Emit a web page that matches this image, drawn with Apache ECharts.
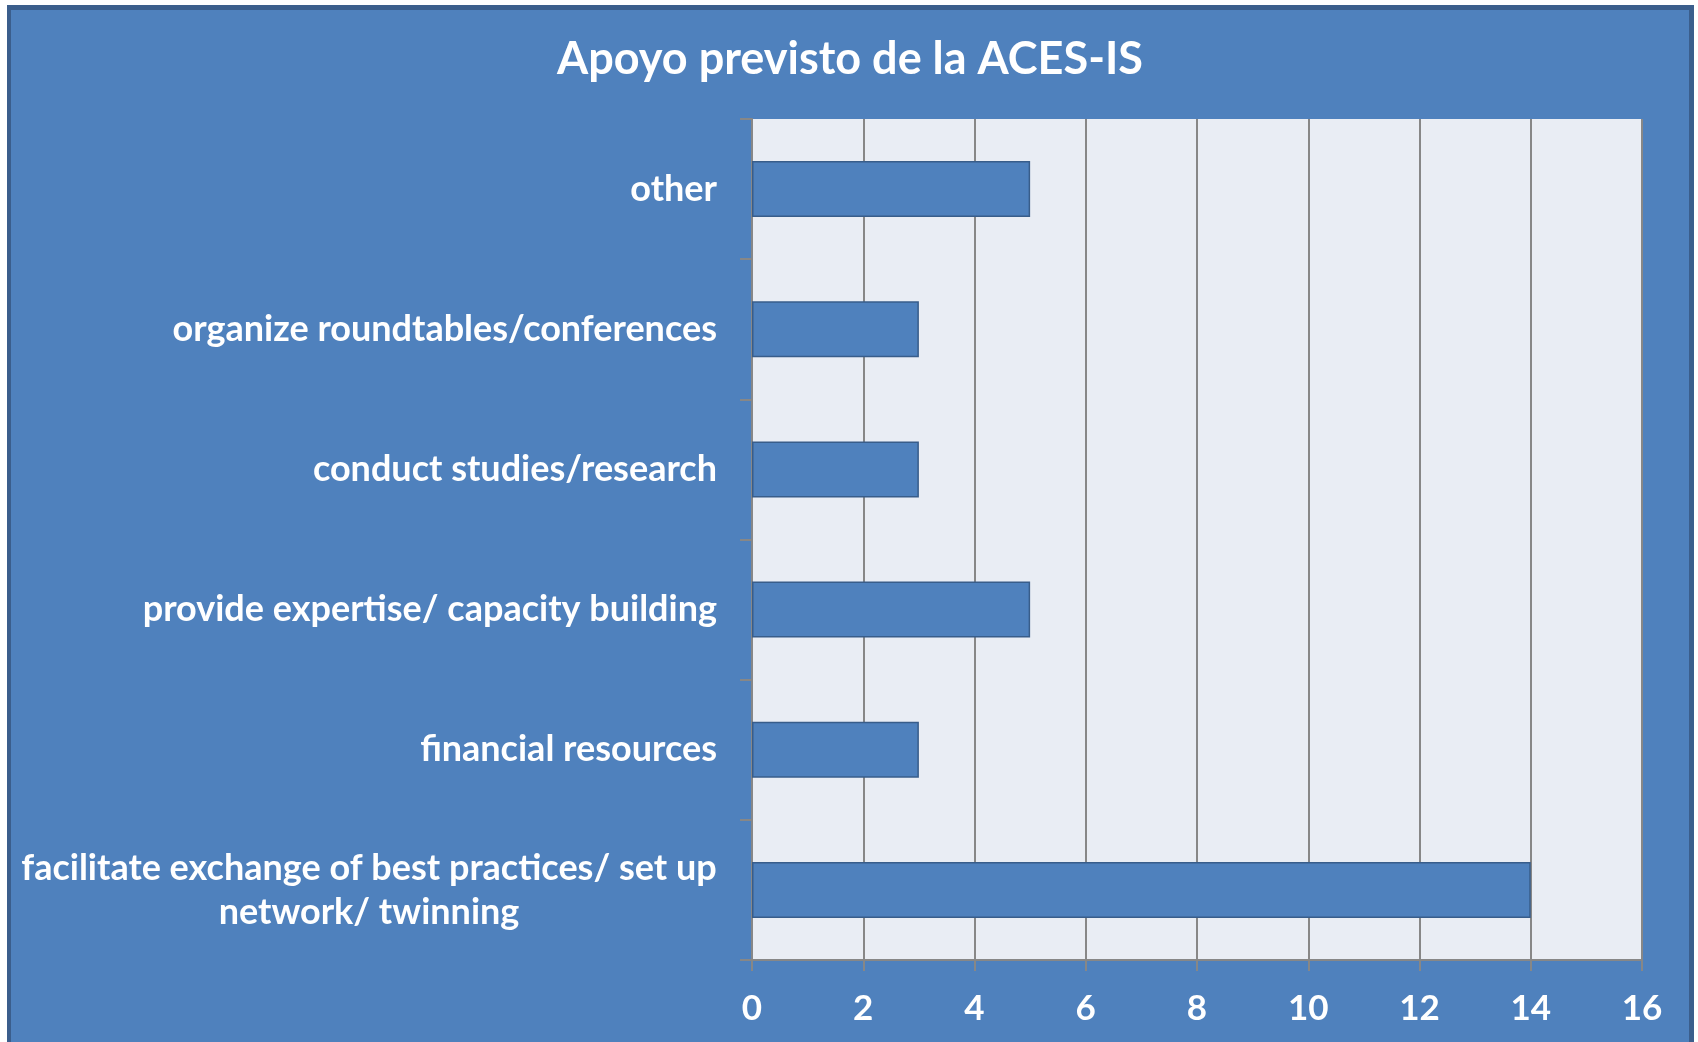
<!DOCTYPE html>
<html>
<head>
<meta charset="utf-8">
<script src="https://cdn.jsdelivr.net/npm/echarts@6/dist/echarts.min.js"></script>
<style>
  html, body { margin: 0; padding: 0; background: #fff; overflow: hidden; }
  #main {
    position: absolute; left: 7px; top: 5px;
    width: 1678px; height: 1032px;
    border-left: 4px solid #3b5e8c; border-top: 5px solid #3b5e8c; border-right: 5px solid #3b5e8c;
    background: #4f81bd;
  }
</style>
</head>
<body>
<div id="main"></div>
<script>
// categories listed bottom -> top (ECharts draws the first category at the bottom)
const categories = [
  'facilitate exchange of best practices/ set up\nnetwork/ twinning',
  'financial resources',
  'provide expertise/ capacity building',
  'conduct studies/research',
  'organize roundtables/conferences',
  'other'
]
const counts = [14, 3, 5, 3, 3, 5]
const xTicks = { min: 0, max: 16, step: 2 }

const labelFont = 'Lato'
const labelSize = 36

// width of the widest line, so the wrapped label can be centred like the original
const ctx = document.createElement('canvas').getContext('2d')
ctx.font = 'bold ' + labelSize + 'px ' + labelFont
const wrapWidth = Math.ceil(Math.max(...categories[0].split('\n').map(s => ctx.measureText(s).width)))

const myChart = echarts.init(document.getElementById('main'))

const option = {
  backgroundColor: 'transparent',
  title: {
    text: 'Apoyo previsto de la ACES-IS',
    left: 'center',
    top: 22,
    textStyle: { color: '#fff', fontFamily: labelFont, fontWeight: 'bold', fontSize: 45 }
  },
  grid: {
    left: 741, right: 47, top: 109, bottom: 82,
    show: true, backgroundColor: '#e9edf4', borderWidth: 0
  },
  xAxis: {
    type: 'value',
    min: xTicks.min, max: xTicks.max, interval: xTicks.step,
    axisLine: { show: true, lineStyle: { color: '#878787', width: 2 } },
    axisTick: { show: true, length: 11, lineStyle: { color: '#878787', width: 2 } },
    axisLabel: { margin: 31, color: '#fff', fontFamily: labelFont, fontWeight: 'bold', fontSize: 35 },
    splitLine: { show: true, lineStyle: { color: '#878787', width: 2 } }
  },
  yAxis: {
    type: 'category',
    data: categories,
    axisLine: { show: true, lineStyle: { color: '#878787', width: 2 } },
    axisTick: { show: true, length: 12, lineStyle: { color: '#878787', width: 2 } },
    axisLabel: {
      margin: 35,
      color: '#fff', fontFamily: labelFont, fontWeight: 'bold', fontSize: labelSize,
      lineHeight: 44,
      formatter: v => v.indexOf('\n') < 0 ? v : v.split('\n').map(s => '{w|' + s + '}').join('\n'),
      rich: {
        w: { width: wrapWidth, align: 'center', color: '#fff', fontFamily: labelFont, fontWeight: 'bold', fontSize: labelSize, lineHeight: 44 }
      }
    },
    splitLine: { show: false }
  },
  series: [{
    type: 'bar',
    data: counts,
    barCategoryGap: '60%',
    itemStyle: { color: '#4f81bd', borderColor: '#385d8a', borderWidth: 1.5 }
  }]
}

myChart.setOption(option)
window.onresize = () => { myChart.resize() }
</script>
</body>
</html>
